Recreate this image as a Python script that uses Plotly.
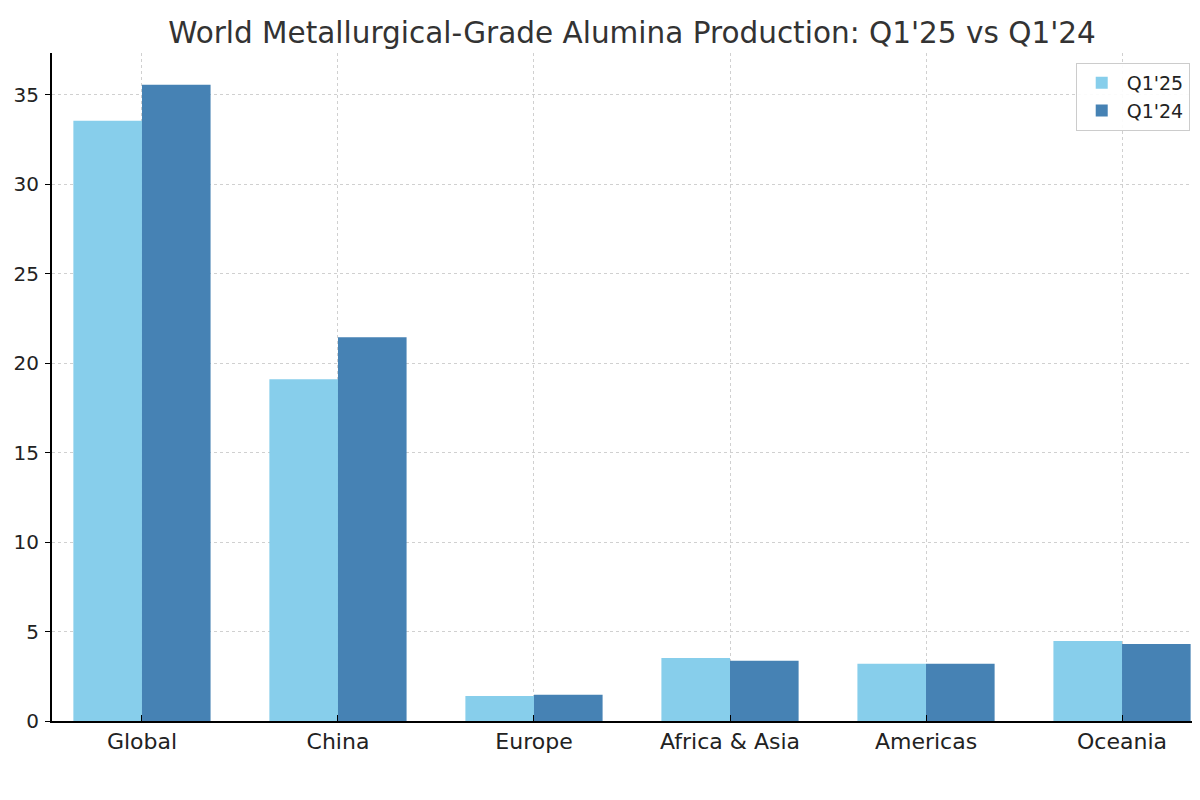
import plotly.graph_objects as go

# Alumina production by region (million tonnes)
regions = ["Global", "China", "Europe", "Africa & Asia", "Americas", "Oceania"]
q1_25 = [33.55, 19.1, 1.40, 3.52, 3.20, 4.47]
q1_24 = [35.55, 21.45, 1.47, 3.36, 3.20, 4.30]
y_ticks = [0, 5, 10, 15, 20, 25, 30, 35]

LIGHT = "#87CEEB"
DARK = "#4682B4"
FONT = "DejaVu Sans"

W, H = 1184, 784  # page adds an 8px body margin

fig = go.Figure()
fig.add_trace(go.Bar(x=list(range(len(regions))), y=q1_25, name="Q1'25",
                     marker=dict(color=LIGHT, line=dict(width=0))))
fig.add_trace(go.Bar(x=list(range(len(regions))), y=q1_24, name="Q1'24",
                     marker=dict(color=DARK, line=dict(width=0))))

fig.update_layout(
    width=W, height=H,
    barmode="group", bargap=0.3, bargroupgap=0,
    plot_bgcolor="white", paper_bgcolor="white",
    margin=dict(l=44, r=0, t=45, b=71),
    font=dict(family=FONT, size=22, color="#222222"),
    title=dict(text="World Metallurgical-Grade Alumina Production: Q1'25 vs Q1'24",
               x=624 / W, xref="container", xanchor="center",
               y=1 - 25 / H, yref="container", yanchor="middle",
               font=dict(family=FONT, size=29.5, color="#333333")),
    legend=dict(x=0.998, xanchor="right", y=1 - 10 / 668, yanchor="top",
                bgcolor="rgba(255,255,255,0.9)", bordercolor="#cccccc", borderwidth=1,
                font=dict(size=19), itemwidth=40),
    showlegend=True,
)

fig.update_xaxes(
    range=[-0.459, 5.357],
    tickmode="array", tickvals=list(range(len(regions))), ticktext=regions,
    showline=True, linecolor="black", linewidth=2,
    ticks="inside", ticklen=6, tickcolor="black",
    showgrid=True, gridcolor="#d0d0d0", griddash="3px,3px", gridwidth=1,
    zeroline=False,
)
fig.update_yaxes(
    range=[0, 37.33],
    tickmode="array", tickvals=y_ticks,
    showline=True, linecolor="black", linewidth=2,
    ticks="outside", ticklen=5, tickcolor="black", ticklabelstandoff=2,
    tickfont=dict(size=20),
    showgrid=True, gridcolor="#d0d0d0", griddash="3px,3px", gridwidth=1,
    zeroline=False, automargin=False,
)

fig.write_html("out.html")
